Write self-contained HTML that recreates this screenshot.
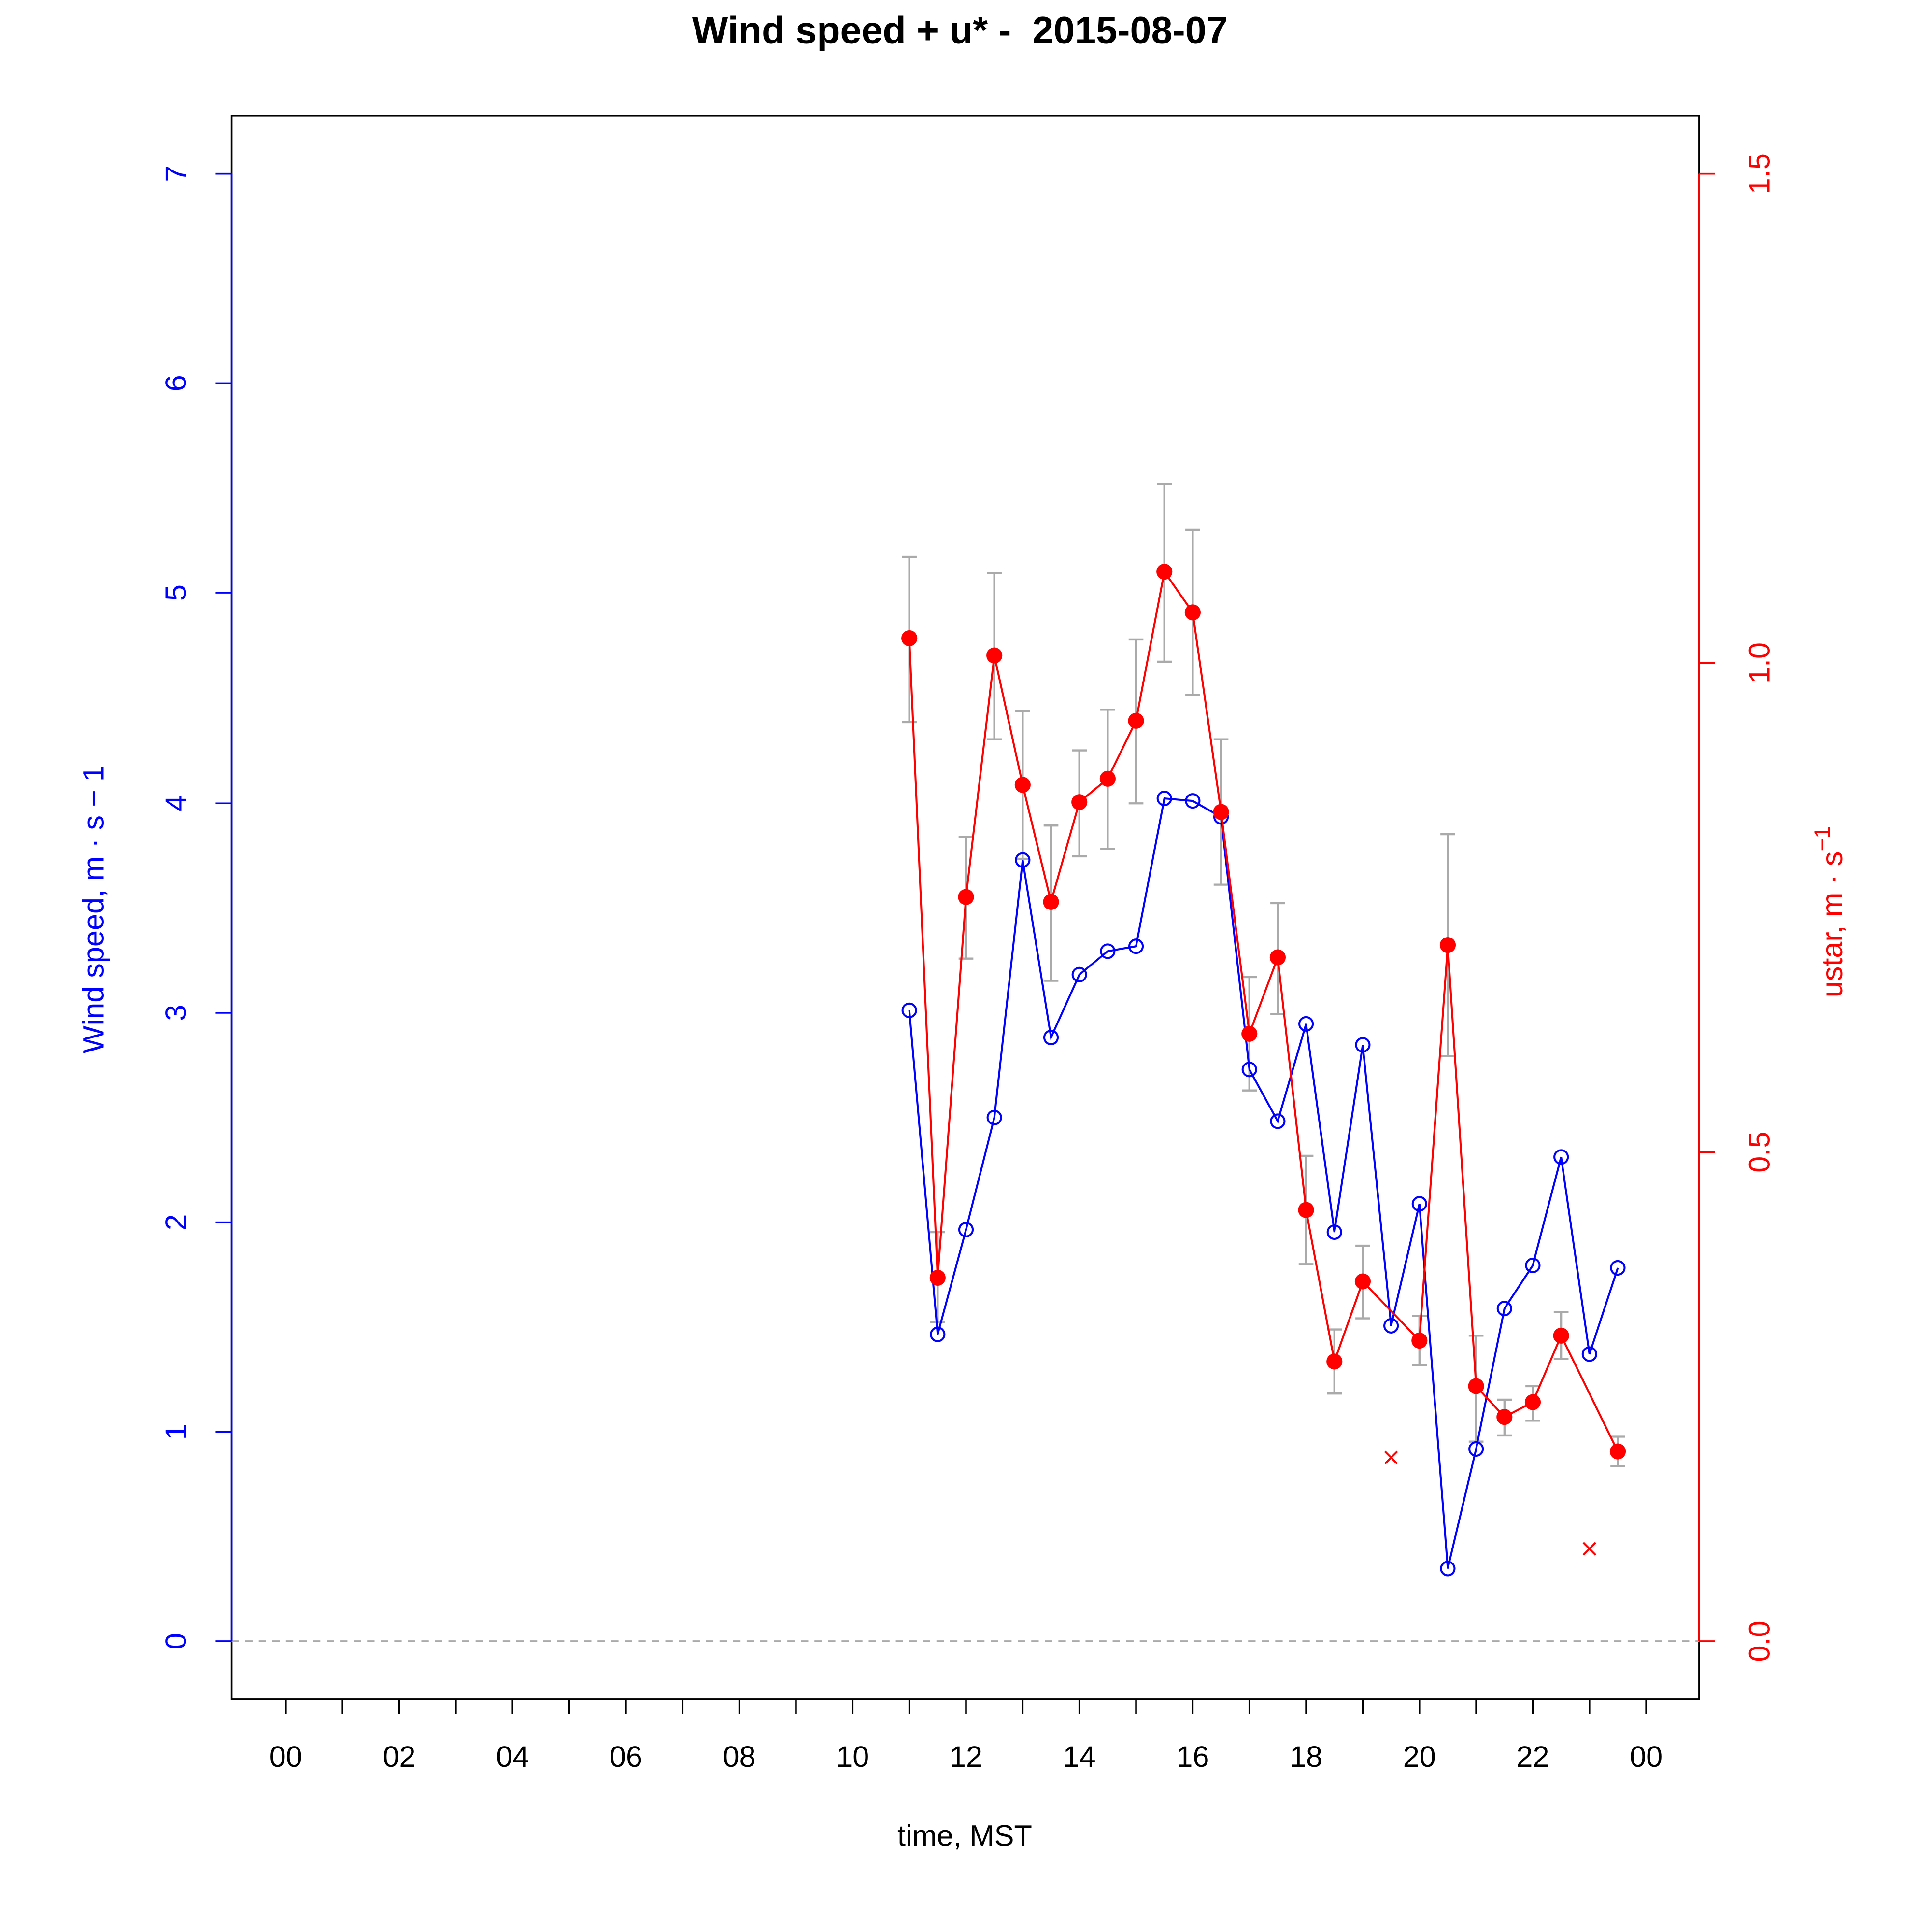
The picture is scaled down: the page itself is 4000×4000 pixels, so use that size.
<!DOCTYPE html>
<html><head><meta charset="utf-8"><style>html,body{margin:0;padding:0;background:#fff}svg{display:block}</style></head>
<body>
<svg width="4000" height="4000" viewBox="0 0 1568 1568" xmlns="http://www.w3.org/2000/svg" font-family="Liberation Sans, Arial, sans-serif">
<rect width="1568" height="1568" fill="#fff"/>
<text x="779" y="35" font-size="31" font-weight="bold" text-anchor="middle">Wind speed + u* -&#160; 2015-08-07</text>
<rect x="188" y="94" width="1191" height="1285" fill="none" stroke="#000" stroke-width="1.4"/>
<line x1="188" y1="1332" x2="1379" y2="1332" stroke="#aaa" stroke-width="1.4" stroke-dasharray="6,5"/>
<g stroke="#00f" stroke-width="1.4">
<line x1="188" y1="141" x2="188" y2="1332"/>
<line x1="175" y1="1332" x2="188" y2="1332"/><line x1="175" y1="1162" x2="188" y2="1162"/><line x1="175" y1="992" x2="188" y2="992"/><line x1="175" y1="822" x2="188" y2="822"/><line x1="175" y1="652" x2="188" y2="652"/><line x1="175" y1="481" x2="188" y2="481"/><line x1="175" y1="311" x2="188" y2="311"/><line x1="175" y1="141" x2="188" y2="141"/>
</g>
<g fill="#00f" font-size="24" text-anchor="middle">
<text transform="translate(151,1332) rotate(-90)">0</text>
<text transform="translate(151,1162) rotate(-90)">1</text>
<text transform="translate(151,992) rotate(-90)">2</text>
<text transform="translate(151,822) rotate(-90)">3</text>
<text transform="translate(151,652) rotate(-90)">4</text>
<text transform="translate(151,481) rotate(-90)">5</text>
<text transform="translate(151,311) rotate(-90)">6</text>
<text transform="translate(151,141) rotate(-90)">7</text>
<text transform="translate(84,738) rotate(-90)">Wind speed, m · s − 1</text>
</g>
<g stroke="#f00" stroke-width="1.4">
<line x1="1379" y1="141" x2="1379" y2="1332"/>
<line x1="1379" y1="1332" x2="1392" y2="1332"/><line x1="1379" y1="935" x2="1392" y2="935"/><line x1="1379" y1="538" x2="1392" y2="538"/><line x1="1379" y1="141" x2="1392" y2="141"/>
</g>
<g fill="#f00" font-size="24" text-anchor="middle">
<text transform="translate(1436,1332) rotate(-90)">0.0</text>
<text transform="translate(1436,935) rotate(-90)">0.5</text>
<text transform="translate(1436,538) rotate(-90)">1.0</text>
<text transform="translate(1436,141) rotate(-90)">1.5</text>
<text transform="translate(1495,740) rotate(-90)">ustar, m · s<tspan dy="-10" font-size="18">−1</tspan></text>
</g>
<g stroke="#000" stroke-width="1.4">
<line x1="232" y1="1379" x2="232" y2="1391"/><line x1="278" y1="1379" x2="278" y2="1391"/><line x1="324" y1="1379" x2="324" y2="1391"/><line x1="370" y1="1379" x2="370" y2="1391"/><line x1="416" y1="1379" x2="416" y2="1391"/><line x1="462" y1="1379" x2="462" y2="1391"/><line x1="508" y1="1379" x2="508" y2="1391"/><line x1="554" y1="1379" x2="554" y2="1391"/><line x1="600" y1="1379" x2="600" y2="1391"/><line x1="646" y1="1379" x2="646" y2="1391"/><line x1="692" y1="1379" x2="692" y2="1391"/><line x1="738" y1="1379" x2="738" y2="1391"/><line x1="784" y1="1379" x2="784" y2="1391"/><line x1="830" y1="1379" x2="830" y2="1391"/><line x1="876" y1="1379" x2="876" y2="1391"/><line x1="922" y1="1379" x2="922" y2="1391"/><line x1="968" y1="1379" x2="968" y2="1391"/><line x1="1014" y1="1379" x2="1014" y2="1391"/><line x1="1060" y1="1379" x2="1060" y2="1391"/><line x1="1106" y1="1379" x2="1106" y2="1391"/><line x1="1152" y1="1379" x2="1152" y2="1391"/><line x1="1198" y1="1379" x2="1198" y2="1391"/><line x1="1244" y1="1379" x2="1244" y2="1391"/><line x1="1290" y1="1379" x2="1290" y2="1391"/><line x1="1336" y1="1379" x2="1336" y2="1391"/>
</g>
<g font-size="24" text-anchor="middle">
<text x="232" y="1434">00</text><text x="324" y="1434">02</text><text x="416" y="1434">04</text><text x="508" y="1434">06</text><text x="600" y="1434">08</text><text x="692" y="1434">10</text><text x="784" y="1434">12</text><text x="876" y="1434">14</text><text x="968" y="1434">16</text><text x="1060" y="1434">18</text><text x="1152" y="1434">20</text><text x="1244" y="1434">22</text><text x="1336" y="1434">00</text>
<text x="783" y="1498">time, MST</text>
</g>
<path stroke="#aaa" stroke-width="1.7" fill="none" d="
M738 452V586M732 452H744M732 586H744
M761 1000V1073M755 1000H767M755 1073H767
M784 679V778M778 679H790M778 778H790
M807 465V600M801 465H813M801 600H813
M830 577V697M824 577H836M824 697H836
M853 670V796M847 670H859M847 796H859
M876 609V695M870 609H882M870 695H882
M899 576V689M893 576H905M893 689H905
M922 519V652M916 519H928M916 652H928
M945 393V537M939 393H951M939 537H951
M968 430V564M962 430H974M962 564H974
M991 600V718M985 600H997M985 718H997
M1014 793V885M1008 793H1020M1008 885H1020
M1037 733V823M1031 733H1043M1031 823H1043
M1060 938V1026M1054 938H1066M1054 1026H1066
M1083 1079V1131M1077 1079H1089M1077 1131H1089
M1106 1011V1070M1100 1011H1112M1100 1070H1112
M1152 1068V1108M1146 1068H1158M1146 1108H1158
M1175 677V857M1169 677H1181M1169 857H1181
M1198 1084V1170M1192 1084H1204M1192 1170H1204
M1221 1136V1165M1215 1136H1227M1215 1165H1227
M1244 1125V1153M1238 1125H1250M1238 1153H1250
M1267 1065V1103M1261 1065H1273M1261 1103H1273
M1313 1166V1190M1307 1166H1319M1307 1190H1319"/>
<polyline fill="none" stroke="#00f" stroke-width="1.6" points="738,820 761,1083 784,998 807,907 830,698 853,842 876,791 899,772 922,768 945,648 968,650 991,663 1014,868 1037,910 1060,831 1083,1000 1106,848 1129,1076 1152,977 1175,1273 1198,1176 1221,1062 1244,1027 1267,939 1290,1099 1313,1029"/>
<g fill="none" stroke="#00f" stroke-width="1.6">
<circle cx="738" cy="820" r="5.5"/><circle cx="761" cy="1083" r="5.5"/><circle cx="784" cy="998" r="5.5"/><circle cx="807" cy="907" r="5.5"/><circle cx="830" cy="698" r="5.5"/><circle cx="853" cy="842" r="5.5"/><circle cx="876" cy="791" r="5.5"/><circle cx="899" cy="772" r="5.5"/><circle cx="922" cy="768" r="5.5"/><circle cx="945" cy="648" r="5.5"/><circle cx="968" cy="650" r="5.5"/><circle cx="991" cy="663" r="5.5"/><circle cx="1014" cy="868" r="5.5"/><circle cx="1037" cy="910" r="5.5"/><circle cx="1060" cy="831" r="5.5"/><circle cx="1083" cy="1000" r="5.5"/><circle cx="1106" cy="848" r="5.5"/><circle cx="1129" cy="1076" r="5.5"/><circle cx="1152" cy="977" r="5.5"/><circle cx="1175" cy="1273" r="5.5"/><circle cx="1198" cy="1176" r="5.5"/><circle cx="1221" cy="1062" r="5.5"/><circle cx="1244" cy="1027" r="5.5"/><circle cx="1267" cy="939" r="5.5"/><circle cx="1290" cy="1099" r="5.5"/><circle cx="1313" cy="1029" r="5.5"/>
</g>
<polyline fill="none" stroke="#f00" stroke-width="1.6" points="738,518 761,1037 784,728 807,532 830,637 853,732 876,651 899,632 922,585 945,464 968,497 991,659 1014,839 1037,777 1060,982 1083,1105 1106,1040 1152,1088 1175,767 1198,1125 1221,1150 1244,1138 1267,1084 1313,1178"/>
<g fill="#f00">
<circle cx="738" cy="518" r="6.5"/><circle cx="761" cy="1037" r="6.5"/><circle cx="784" cy="728" r="6.5"/><circle cx="807" cy="532" r="6.5"/><circle cx="830" cy="637" r="6.5"/><circle cx="853" cy="732" r="6.5"/><circle cx="876" cy="651" r="6.5"/><circle cx="899" cy="632" r="6.5"/><circle cx="922" cy="585" r="6.5"/><circle cx="945" cy="464" r="6.5"/><circle cx="968" cy="497" r="6.5"/><circle cx="991" cy="659" r="6.5"/><circle cx="1014" cy="839" r="6.5"/><circle cx="1037" cy="777" r="6.5"/><circle cx="1060" cy="982" r="6.5"/><circle cx="1083" cy="1105" r="6.5"/><circle cx="1106" cy="1040" r="6.5"/><circle cx="1152" cy="1088" r="6.5"/><circle cx="1175" cy="767" r="6.5"/><circle cx="1198" cy="1125" r="6.5"/><circle cx="1221" cy="1150" r="6.5"/><circle cx="1244" cy="1138" r="6.5"/><circle cx="1267" cy="1084" r="6.5"/><circle cx="1313" cy="1178" r="6.5"/>
</g>
<path stroke="#f00" stroke-width="1.6" d="M1124 1178L1134 1188M1124 1188L1134 1178M1285 1252L1295 1262M1285 1262L1295 1252"/>
</svg>
</body></html>
